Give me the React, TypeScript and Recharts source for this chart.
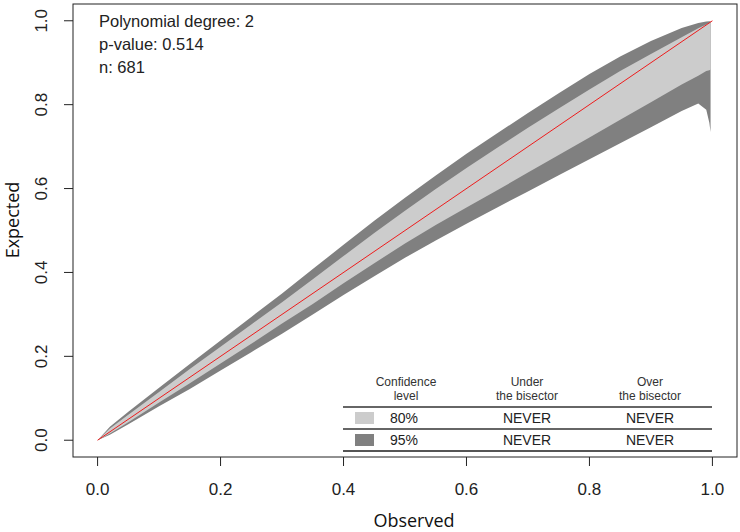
import React from 'react';
import { ComposedChart, Area, Line, XAxis, YAxis } from 'recharts';

const observed = [0, 0.02, 0.05, 0.1, 0.15, 0.2, 0.25, 0.3, 0.35, 0.4, 0.45, 0.5, 0.55, 0.6, 0.65, 0.7, 0.75, 0.8, 0.85, 0.9, 0.95, 0.977, 0.99, 0.995, 0.997];
const upper95 = [0, 0.032, 0.068, 0.125, 0.182, 0.238, 0.294, 0.35, 0.408, 0.466, 0.523, 0.578, 0.631, 0.683, 0.732, 0.78, 0.827, 0.873, 0.915, 0.952, 0.983, 0.995, 0.998, 0.999, 0.999];
const upper80 = [0, 0.028, 0.061, 0.115, 0.17, 0.223, 0.276, 0.329, 0.384, 0.439, 0.494, 0.547, 0.599, 0.649, 0.697, 0.745, 0.791, 0.836, 0.88, 0.921, 0.961, 0.982, 0.991, 0.995, 0.996];
const lower80 = [0, 0.016, 0.043, 0.09, 0.136, 0.183, 0.23, 0.278, 0.325, 0.374, 0.422, 0.469, 0.513, 0.555, 0.596, 0.638, 0.68, 0.722, 0.764, 0.806, 0.848, 0.869, 0.88, 0.882, 0.884];
const lower95 = [0, 0.013, 0.038, 0.081, 0.122, 0.166, 0.21, 0.254, 0.3, 0.346, 0.391, 0.435, 0.476, 0.516, 0.555, 0.593, 0.632, 0.67, 0.708, 0.746, 0.785, 0.803, 0.788, 0.757, 0.735];

const bisector = [0, 1];
const ticks = [0, 0.2, 0.4, 0.6, 0.8, 1.0];

const infoLines = ['Polynomial degree: 2', 'p-value: 0.514', 'n: 681'];
const confidenceLevels = ['80%', '95%'];
const underBisector = ['NEVER', 'NEVER'];
const overBisector = ['NEVER', 'NEVER'];
const levelColors = ['#cccccc', '#808080'];

const W = 740;
const H = 532;
const LEFT = 73;
const TOP = 4;
const RIGHT = 737;
const BOTTOM = 457;

const tickFont = '"Liberation Sans", Arial, sans-serif';
const titleFont = '"Open Sans", "Noto Sans", "DejaVu Sans", sans-serif';

const rows = observed.map((x, i) => ({
  x,
  band95: [lower95[i], upper95[i]],
  band80: [lower80[i], upper80[i]],
}));
const diagData = bisector.map((v) => ({ x: v, y: v }));

const YTick = (props: any) => {
  const { x, y, payload } = props;
  return (
    <text
      x={x}
      y={y}
      transform={`rotate(-90 ${x} ${y})`}
      textAnchor="middle"
      style={{ fontSize: 17, fontFamily: tickFont }}
      fill="#222"
    >
      {payload.value.toFixed(1)}
    </text>
  );
};

const App = () => {
  return (
    <div style={{ position: 'absolute', left: 0, top: 0, width: W, height: H, background: '#fff' }}>
      <ComposedChart width={W} height={H} data={rows} margin={{ top: TOP, right: W - RIGHT, left: 0, bottom: 0 }}>
        <XAxis
          dataKey="x"
          type="number"
          domain={[-0.04, 1.04]}
          allowDataOverflow
          ticks={ticks}
          tickFormatter={(v: number) => v.toFixed(1)}
          axisLine={false}
          tickSize={9}
          tickMargin={17}
          height={H - BOTTOM}
          tickLine={{ stroke: '#222' }}
          tick={{ fontSize: 17, fontFamily: tickFont, fill: '#222' }}
        />
        <YAxis
          type="number"
          domain={[-0.04, 1.04]}
          allowDataOverflow
          ticks={ticks}
          width={LEFT}
          axisLine={false}
          tickSize={9}
          tickMargin={17}
          tickLine={{ stroke: '#222' }}
          tick={<YTick />}
        />
        <Area dataKey="band95" type="linear" stroke="none" fill="#808080" fillOpacity={1} isAnimationActive={false} />
        <Area dataKey="band80" type="linear" stroke="none" fill="#cccccc" fillOpacity={1} isAnimationActive={false} />
        <Line data={diagData} dataKey="y" type="linear" stroke="#ee1c1c" strokeWidth={1} dot={false} isAnimationActive={false} />
      </ComposedChart>
      <svg width={W} height={H} style={{ position: 'absolute', left: 0, top: 0, pointerEvents: 'none' }}>
        <rect x={LEFT} y={TOP} width={RIGHT - LEFT} height={BOTTOM - TOP} fill="none" stroke="#222" strokeWidth={1} />
        {infoLines.map((t, i) => (
          <text key={t} x={99} y={27 + i * 23} style={{ fontSize: 16.5, fontFamily: tickFont }} fill="#222">
            {t}
          </text>
        ))}
        <text x={414} y={527} textAnchor="middle" style={{ fontSize: 18, fontFamily: titleFont }} fill="#111">
          Observed
        </text>
        <text
          x={19}
          y={220}
          transform="rotate(-90 19 220)"
          textAnchor="middle"
          style={{ fontSize: 18, fontFamily: titleFont }}
          fill="#111"
        >
          Expected
        </text>
        {/* summary table */}
        <g style={{ fontFamily: tickFont, fontSize: 12 }} fill="#333" textAnchor="middle">
          <text x={406} y={386}>Confidence</text>
          <text x={406} y={400}>level</text>
          <text x={527} y={386}>Under</text>
          <text x={527} y={400}>the bisector</text>
          <text x={650} y={386}>Over</text>
          <text x={650} y={400}>the bisector</text>
        </g>
        {[407, 429].map((y) => (
          <line key={y} x1={343} x2={712} y1={y} y2={y} stroke="#333" strokeWidth={1.5} />
        ))}
        <line x1={343} x2={712} y1={451} y2={451} stroke="#555" strokeWidth={2} />
        {confidenceLevels.map((lv, i) => (
          <g key={lv} style={{ fontFamily: tickFont, fontSize: 14 }} fill="#222">
            <rect x={355} y={412 + i * 22} width={19} height={12} fill={levelColors[i]} />
            <text x={390} y={423 + i * 22}>{lv}</text>
            <text x={527} y={423 + i * 22} textAnchor="middle">{underBisector[i]}</text>
            <text x={650} y={423 + i * 22} textAnchor="middle">{overBisector[i]}</text>
          </g>
        ))}
      </svg>
    </div>
  );
};

export default App;
